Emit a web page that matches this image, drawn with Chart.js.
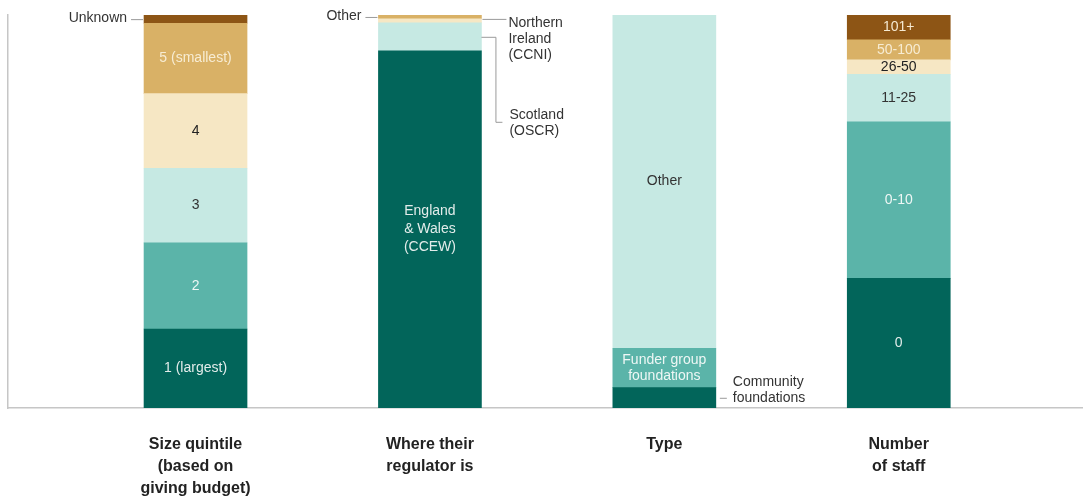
<!DOCTYPE html>
<html>
<head>
<meta charset="utf-8">
<script src="https://cdn.jsdelivr.net/npm/chart.js@4.4.1/dist/chart.umd.min.js"></script>
<style>
  html, body { margin: 0; padding: 0; background: #fff; }
  #wrap { width: 1083px; height: 500px; }
</style>
</head>
<body>
<div id="wrap"><canvas id="chart"></canvas></div>
<script>
// categories (x axis)
const categories = [
  ['Size quintile', '(based on', 'giving budget)'],
  ['Where their', 'regulator is'],
  ['Type'],
  ['Number', 'of staff']
];

// segments, bottom to top, % of each bar
const sizeLabels = ['1 (largest)', '2', '3', '4', '5 (smallest)', 'Unknown'];
const sizeValues = [20.1, 21.9, 19.0, 19.0, 17.9, 2.1];

const regulatorLabels = ['England\n& Wales\n(CCEW)', 'Scotland\n(OSCR)', 'Northern\nIreland\n(CCNI)', 'Other'];
const regulatorValues = [90.9, 7.1, 1.0, 1.0];

const typeLabels = ['Community\nfoundations', 'Funder group\nfoundations', 'Other'];
const typeValues = [5.2, 10.0, 84.8];

const staffLabels = ['0', '0-10', '11-25', '26-50', '50-100', '101+'];
const staffValues = [33.0, 39.8, 12.1, 3.7, 5.1, 6.3];

// couleurs
const COLORS = {
  dark: '#02655a', mid: '#5bb4a9', light: '#c6e9e3',
  cream: '#f6e7c4', gold: '#d9b166', brown: '#8d5515'
};
const TEXT_ON = {
  dark: '#e2ecea', mid: '#eef7f5', light: '#333333',
  cream: '#222222', gold: '#f7ecd3', brown: '#f6ead2'
};

const bars = [
  { values: sizeValues, labels: sizeLabels,
    colors: ['dark', 'mid', 'light', 'cream', 'gold', 'brown'],
    place: ['in', 'in', 'in', 'in', 'in', 'left'] },
  { values: regulatorValues, labels: regulatorLabels,
    colors: ['dark', 'light', 'cream', 'gold'],
    place: ['in', 'elbow', 'right', 'left'] },
  { values: typeValues, labels: typeLabels,
    colors: ['dark', 'mid', 'light'],
    place: ['rightLow', 'in', 'in'] },
  { values: staffValues, labels: staffLabels,
    colors: ['dark', 'mid', 'light', 'cream', 'gold', 'brown'],
    place: ['in', 'in', 'in', 'in', 'in', 'in'] }
];

const datasets = [];
bars.forEach((b, bi) => {
  b.values.forEach((v, si) => {
    datasets.push({
      data: [{ x: bi, y: v }],
      backgroundColor: COLORS[b.colors[si]],
      borderWidth: 0,
      barThickness: 103,
      segLabel: b.labels[si],
      segColor: b.colors[si],
      place: b.place[si]
    });
  });
});

const FONT = '14px "Liberation Sans", Arial, sans-serif';

// labels dans / à côté des barres
const segmentLabels = {
  id: 'segmentLabels',
  afterDatasetsDraw(chart) {
    const ctx = chart.ctx;
    ctx.save();
    ctx.font = FONT;
    ctx.textBaseline = 'middle';
    chart.data.datasets.forEach((ds, i) => {
      const el = chart.getDatasetMeta(i).data[0];
      if (!el) return;
      const top = Math.min(el.y, el.base), bot = Math.max(el.y, el.base);
      const cy = (top + bot) / 2;
      const left = el.x - el.width / 2, right = el.x + el.width / 2;
      const lines = ds.segLabel.split('\n');
      ctx.strokeStyle = '#9a9a9a';
      ctx.lineWidth = 1;

      if (ds.place === 'in') {
        const lh = lines.length > 2 ? 18 : 15.5;
        ctx.fillStyle = TEXT_ON[ds.segColor];
        ctx.textAlign = 'center';
        lines.forEach((t, k) => {
          ctx.fillText(t, el.x, cy + (k - (lines.length - 1) / 2) * lh);
        });
      } else if (ds.place === 'left') {
        ctx.beginPath();
        ctx.moveTo(left - 1, cy + 0.5); ctx.lineTo(left - 13, cy + 0.5);
        ctx.stroke();
        ctx.fillStyle = '#333';
        ctx.textAlign = 'right';
        ctx.fillText(lines[0], left - 17, cy - 0.5);
      } else if (ds.place === 'right') {
        ctx.beginPath();
        ctx.moveTo(right + 1, cy - 1.5); ctx.lineTo(right + 25, cy - 1.5);
        ctx.stroke();
        ctx.fillStyle = '#333';
        ctx.textAlign = 'left';
        lines.forEach((t, k) => ctx.fillText(t, right + 27, cy + 2 + k * 16));
      } else if (ds.place === 'rightLow') {
        ctx.beginPath();
        ctx.moveTo(right + 4, cy + 0.5); ctx.lineTo(right + 11, cy + 0.5);
        ctx.stroke();
        ctx.fillStyle = '#333';
        ctx.textAlign = 'left';
        lines.forEach((t, k) => ctx.fillText(t, right + 17, cy - 16 + k * 16));
      } else if (ds.place === 'elbow') {
        const ty = cy + 85;
        ctx.beginPath();
        ctx.moveTo(right, cy + 0.5); ctx.lineTo(right + 14.5, cy + 0.5);
        ctx.lineTo(right + 14.5, ty + 0.5); ctx.lineTo(right + 21, ty + 0.5);
        ctx.stroke();
        ctx.fillStyle = '#333';
        ctx.textAlign = 'left';
        lines.forEach((t, k) => ctx.fillText(t, right + 28, ty - 6.5 + k * 15.5));
      }
    });
    ctx.restore();
  }
};

new Chart(document.getElementById('chart'), {
  type: 'bar',
  data: { datasets: datasets },
  options: {
    responsive: true,
    maintainAspectRatio: false,
    animation: false,
    layout: { padding: { left: 8, top: 15, right: 0, bottom: 0 } },
    plugins: { legend: { display: false }, tooltip: { enabled: false } },
    scales: {
      x: {
        type: 'linear',
        stacked: true,
        offset: false,
        min: -0.8,
        max: 3.786,
        afterBuildTicks: (s) => { s.ticks = categories.map((c, i) => ({ value: i })); },
        afterFit: (s) => { s.height = 92; },
        grid: { display: false, drawTicks: false, offset: false },
        border: { display: true, color: '#c6c6c6', width: 1.5 },
        ticks: {
          autoSkip: false,
          maxRotation: 0,
          padding: 25,
          color: '#222',
          font: { family: '"Liberation Sans", Arial, sans-serif', size: 16, weight: 'bold', lineHeight: 1.4 },
          callback: (v) => categories[v] || ''
        }
      },
      y: {
        stacked: true,
        min: 0,
        max: 100,
        afterFit: (s) => { s.width = 0; },
        grid: { display: false, drawTicks: false },
        border: { display: true, color: '#c6c6c6', width: 1.5 },
        ticks: { display: false }
      }
    }
  },
  plugins: [segmentLabels]
});
</script>
</body>
</html>
